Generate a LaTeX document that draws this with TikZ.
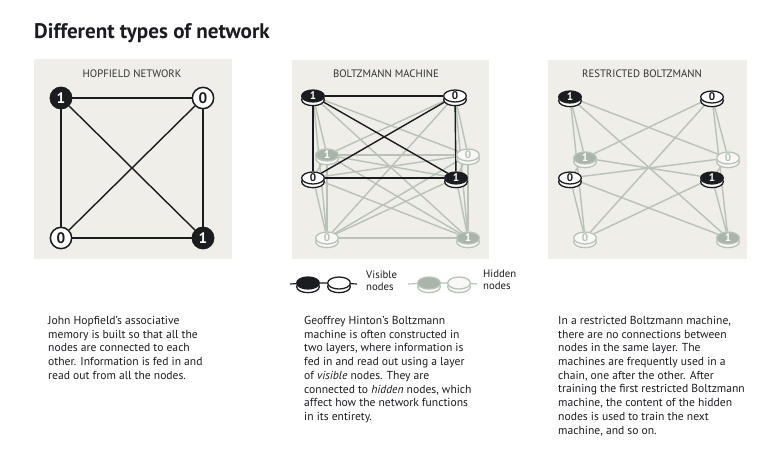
\documentclass[tikz,border=0pt]{standalone}
\usepackage{fontspec}
\setmainfont{PT Sans}
\usetikzlibrary{shapes.geometric,shadows}

\definecolor{ink}{HTML}{1B1C20}
\definecolor{panel}{HTML}{EFEEE8}
\definecolor{mute}{HTML}{B8C2B7}
\definecolor{mutefill}{HTML}{A9B5A8}

\pgfdeclarelayer{back}
\pgfdeclarelayer{links}
\pgfsetlayers{back,links,main}

\tikzset{
  panel box/.style={fill=panel, draw=none},
  heading/.style={anchor=base, inner sep=0pt, text=ink!90, font=\fontsize{9.2}{10}\selectfont},
  blurb/.style={anchor=north west, align=left, inner sep=0pt, text=ink,
    font=\fontsize{9.9}{11.7}\selectfont},
  key text/.style={anchor=base west, align=left, inner sep=0pt, text=ink,
    font=\fontsize{9.2}{9.6}\selectfont},
  link/.style={draw=ink, line width=1.2pt},
  faint link/.style={draw=mute, line width=1.2pt},
  hop/.style={circle, minimum size=6.4mm, inner sep=0pt, draw=ink, line width=1.3pt,
    font=\bfseries\fontsize{13}{13}\selectfont},
  hop on/.style={hop, fill=ink, text=white},
  hop off/.style={hop, fill=white, text=ink},
  coin/.style={ellipse, minimum width=6.8mm, minimum height=3.6mm, inner sep=0pt,
    line width=1.1pt, font=\bfseries\fontsize{9.5}{9.5}\selectfont},
  vis on/.style={coin, draw=ink, fill=ink, text=white,
    general shadow={fill=white, draw=ink, shadow yshift=-1.1mm}},
  vis off/.style={coin, draw=ink, fill=white, text=ink,
    general shadow={fill=white, draw=ink, shadow yshift=-1.1mm}},
  hid on/.style={coin, draw=mute, fill=mutefill, text=white,
    general shadow={fill=white!60!panel, draw=mute, shadow yshift=-1.1mm}},
  hid off/.style={coin, draw=mute, fill=white!60!panel, text=mute,
    general shadow={fill=white!60!panel, draw=mute, shadow yshift=-1.1mm}}
}

\begin{document}
\begin{tikzpicture}[x=0.3mm, y=-0.3mm]
  \useasboundingbox (0,0) rectangle (777,459);

  \begin{pgfonlayer}{back}
    \fill[white] (0,0) rectangle (777,459);
    \fill[panel box] (34,59) rectangle (232,259);
    \fill[panel box] (292,60) rectangle (489,259);
    \fill[panel box] (548,60) rectangle (747,259);
  \end{pgfonlayer}

  \node[anchor=base west, inner sep=0pt, text=ink, font=\bfseries\fontsize{18}{20}\selectfont]
    (title) at (34,38) {Different types of network};

  % Hopfield network
  \node[heading] (hoptitle) at (132,77.5) {HOPFIELD NETWORK};
  \node[hop on]  (p1) at (61,98) {1};
  \node[hop off] (p2) at (203,98) {0};
  \node[hop off] (p3) at (61,238) {0};
  \node[hop on]  (p4) at (203,238) {1};
  \begin{pgfonlayer}{links}
    \foreach \a/\b in {1/2,1/3,1/4,2/3,2/4,3/4}
      \draw[link] (p\a) -- (p\b);
  \end{pgfonlayer}

  % Boltzmann machine
  \node[heading] (boltitle) at (386,77.5) {BOLTZMANN MACHINE};
  \node[vis on]  (bv1) at (313,96) {1};
  \node[vis off] (bv2) at (455,96) {0};
  \node[vis off] (bv3) at (313,178) {0};
  \node[vis on]  (bv4) at (456,178) {1};
  \node[hid on]  (bh1) at (327,155) {1};
  \node[hid off] (bh2) at (468,155) {0};
  \node[hid off] (bh3) at (327,238) {0};
  \node[hid on]  (bh4) at (468,238) {1};
  \begin{pgfonlayer}{links}
    \foreach \a in {1,...,4}
      \foreach \b in {1,...,4}
        \draw[faint link] (bv\a) -- (bh\b);
    \foreach \a/\b in {1/2,1/3,1/4,2/3,2/4,3/4}
      \draw[faint link] (bh\a) -- (bh\b);
    \foreach \a/\b in {1/2,1/3,1/4,2/3,2/4,3/4}
      \draw[link] (bv\a) -- (bv\b);
  \end{pgfonlayer}

  % restricted Boltzmann machine
  \node[heading] (rbmtitle) at (642,77.5) {RESTRICTED BOLTZMANN};
  \node[vis on]  (rv1) at (570,97) {1};
  \node[vis off] (rv2) at (712,97) {0};
  \node[vis off] (rv3) at (570,178) {0};
  \node[vis on]  (rv4) at (712,178) {1};
  \node[hid on]  (rh1) at (585,158) {1};
  \node[hid off] (rh2) at (728,158) {0};
  \node[hid off] (rh3) at (585,238) {0};
  \node[hid on]  (rh4) at (728,238) {1};
  \begin{pgfonlayer}{links}
    \foreach \a in {1,...,4}
      \foreach \b in {1,...,4}
        \draw[faint link] (rv\a) -- (rh\b);
  \end{pgfonlayer}

  % legend
  \coordinate (lva) at (290,284);
  \coordinate (lvb) at (357,284);
  \node[vis on]  (lv1) at (308,283) {};
  \node[vis off] (lv2) at (339,283) {};
  \node[key text] (lvtext) at (366,290) {Visible\\nodes};
  \coordinate (lha) at (408,284);
  \coordinate (lhb) at (477,284);
  \node[hid on]  (lh1) at (429,283) {};
  \node[hid off] (lh2) at (459,283) {};
  \node[key text] (lhtext) at (483,289) {Hidden\\nodes};
  \begin{pgfonlayer}{links}
    \draw[ink, line width=1pt] (lva) -- (lv1) -- (lv2) -- (lvb);
    \draw[mute, line width=1pt] (lha) -- (lh1) -- (lh2) -- (lhb);
  \end{pgfonlayer}

  % captions
  \node[blurb] (hopnote) at (48,316) {John Hopfield’s associative\\
    memory is built so that all the\\nodes are connected to each\\
    other. Information is fed in and\\read out from all the nodes.};
  \node[blurb] (bolnote) at (304,316) {Geoffrey Hinton’s Boltzmann\\
    machine is often constructed in\\two layers, where information is\\
    fed in and read out using a layer\\of \textit{visible} nodes. They are\\
    connected to \textit{hidden} nodes, which\\affect how the network functions\\
    in its entirety.};
  \node[blurb] (rbmnote) at (558,316) {In a restricted Boltzmann machine,\\
    there are no connections between\\nodes in the same layer. The\\
    machines are frequently used in a\\chain, one after the other. After\\
    training the first restricted Boltzmann\\machine, the content of the hidden\\
    nodes is used to train the next\\machine, and so on.};
\end{tikzpicture}
\end{document}
